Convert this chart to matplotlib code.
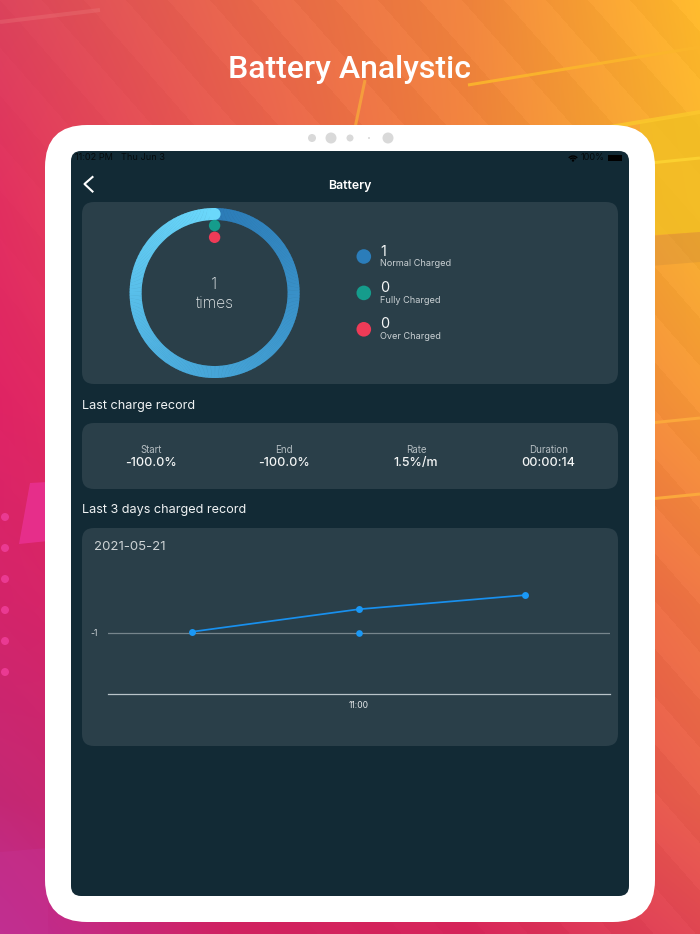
import numpy as np
import matplotlib
matplotlib.use("Agg")
import matplotlib.pyplot as plt
from matplotlib.patches import FancyBboxPatch, Circle, Wedge, Polygon, Rectangle, Arc

# ---------- data ----------
ring_total = 1
legend_counts = [1, 0, 0]
legend_names = ["Normal Charged", "Fully Charged", "Over Charged"]
legend_colors = ["#2b7dba", "#159c8c", "#ee3b57"]
record_labels = ["Start", "End", "Rate", "Duration"]
record_values = ["-100.0%", "-100.0%", "1.5%/m", "00:00:14"]
chart_date = "2021-05-21"
line_x = [0, 1, 1.99]
line_values = [-0.98, -0.61, -0.38]
point_x = [1]
point_values = [-1]
x_tick_pos = [1]
x_tick_labels = ["11:00"]
y_tick_pos = [-1]
y_tick_labels = ["-1"]

W, H = 700, 934
SCREEN = "#122a35"
CARD = "#2a3f49"
FONT = ["Inter", "DejaVu Sans"]

fig = plt.figure(figsize=(W / 100, H / 100), dpi=100)
bg = fig.add_axes([0, 0, 1, 1])
bg.set_xlim(0, W)
bg.set_ylim(H, 0)
bg.axis("off")

# ---------- background gradient ----------
cx = np.array([0, 233, 466, 700], float)
cy = np.array([0, 200, 400, 600, 800, 934], float)
grid = np.array([
    [[220, 68, 92], [232, 102, 76], [240, 132, 62], [255, 186, 44]],
    [[226, 48, 96], [232, 90, 80], [240, 130, 60], [246, 178, 46]],
    [[224, 36, 100], [228, 60, 90], [236, 110, 70], [246, 152, 56]],
    [[212, 36, 106], [220, 40, 96], [232, 80, 76], [238, 118, 68]],
    [[196, 40, 116], [208, 36, 100], [226, 60, 84], [232, 96, 76]],
    [[190, 46, 150], [208, 34, 96], [214, 36, 90], [226, 72, 84]],
], float)
xx = np.arange(W) + .5
yy = np.arange(H) + .5
row = np.array([[np.interp(x, cx, grid[r, :, c]) for x in xx] for r in range(6) for c in range(3)]).reshape(6, 3, W)
img = np.zeros((H, W, 3))
for c in range(3):
    for i in range(W):
        img[:, i, c] = np.interp(yy, cy, row[:, c, i])
X, Y = np.meshgrid(xx, yy)
stripe = (((X - Y * 0.88) % 84) < 42).astype(float)
strength = np.clip((X + (400 - Y) * 0.5) / 500, 0.1, 1)
img = np.clip(img + (stripe - .5)[..., None] * 5 * strength[..., None], 0, 255)
bg.imshow(img.astype(np.uint8), extent=(0, W, H, 0), aspect="auto", interpolation="bilinear", zorder=0)
bg.set_xlim(0, W)
bg.set_ylim(H, 0)

# ---------- background decoration ----------
bg.add_patch(Polygon([(640, 236), (700, 232), (700, 114), (640, 122)], fc="#f2c024", alpha=.8, ec="none", zorder=1))
bg.add_patch(Polygon([(650, 236), (700, 232), (700, 262), (650, 266)], fc="#c98a3a", alpha=.3, ec="none", zorder=1))
bg.add_patch(Polygon([(30, 483), (48, 482), (48, 541), (19, 544)], fc="#e8308f", alpha=.9, ec="none", zorder=1))
bg.add_patch(Polygon([(0, 852), (48, 848), (48, 934), (0, 934)], fc="#c4308e", alpha=.5, ec="none", zorder=1))
for py in [517, 548, 579, 610, 641, 672]:
    bg.add_patch(Circle((5, py), 4, fc="#ea3a92", ec="none", zorder=1))
streaks = [((468, 85), (700, 47), 3, "#fbb62c", .9), ((355, 128), (365, 80), 3, "#f6a23c", .9),
           ((0, 22), (100, 10), 4, "#ee7f80", .3), ((580, 132), (700, 112), 4, "#fbc92c", .8),
           ((650, 163), (700, 158), 3, "#fbd030", 1), ((650, 423), (700, 418), 3, "#fba83c", 1),
           ((650, 499), (700, 494), 3, "#fba83c", 1)]
for a, b, lw, col, al in streaks:
    bg.plot([a[0], b[0]], [a[1], b[1]], color=col, lw=lw * .72, alpha=al, zorder=1, solid_capstyle="butt")


def rrect(x0, y0, x1, y1, r, fc, z):
    bg.add_patch(FancyBboxPatch((x0 + r, y0 + r), x1 - x0 - 2 * r, y1 - y0 - 2 * r,
                                boxstyle=f"round,pad={r},rounding_size={r}", fc=fc, ec="none", zorder=z))


def txt(x, y, s, size, color="white", weight="normal", ha="center", family=FONT, alpha=1):
    bg.text(x, y + 1, s, fontsize=size, color=color, fontweight=weight, ha=ha, va="center",
            family=family, alpha=alpha, zorder=6)


# ---------- device ----------
rrect(45, 125, 655, 922, 42, "white", 2)
rrect(71, 151, 629, 896, 10, SCREEN, 3)
rrect(82, 202, 618, 384, 12, CARD, 4)
rrect(82, 423, 618, 489, 12, CARD, 4)
rrect(82, 528, 618, 746, 12, CARD, 4)
for px, r in [(312, 4), (331, 5.5), (350, 3.5), (369, 1), (388, 5.5)]:
    bg.add_patch(Circle((px, 138), r, fc="#d9d9d9", ec="none", zorder=4))

txt(349.5, 69, "Battery Analystic", 23, weight="medium", family=["Roboto", "DejaVu Sans"])

# ---------- status / nav ----------
txt(75, 157, "11:02 PM", 6.6, color="black", ha="left", alpha=.75)
txt(121, 157, "Thu Jun 3", 6.6, color="black", ha="left", alpha=.75)
txt(581, 157, "100%", 6.6, color="black", ha="left", alpha=.75)
for d, lw in [(11, 1.0), (7, 1.0)]:
    bg.add_patch(Arc((573, 161.5), d, d, theta1=220, theta2=320, color="black", lw=lw, zorder=6))
bg.add_patch(Circle((573, 160.5), 1.2, fc="black", ec="none", zorder=6))
bg.add_patch(Rectangle((608, 155), 14, 6, fc="black", ec="none", zorder=6))
bg.plot([92.5, 84.5, 92.5], [177, 184, 191.5], color="white", lw=1.5, zorder=6)
txt(350, 184.5, "Battery", 8.9, weight="semibold")

# ---------- ring ----------
rc = (214.6, 293)
R, T = 85, 12
dark = np.array([0x2b, 0x7b, 0xb7]) / 255
mid = np.array([0x46, 0xa5, 0xd8]) / 255
light = np.array([0x6b, 0xd8, 0xfb]) / 255
frac = legend_counts[0] / ring_total
N = 360
for i in range(int(N * frac)):
    t = i / N
    col = dark + (mid - dark) * (t / .5) if t < .5 else mid + (light - mid) * ((t - .5) / .5)
    # inverted y axis: angles run clockwise on screen
    bg.add_patch(Wedge(rc, R, -90 + 360 * t, -90 + 360 * (t + 1 / N) + .4, width=T, fc=col, ec="none", zorder=5))
bg.add_patch(Circle((rc[0], rc[1] - R + T / 2), T / 2, fc=light, ec="none", zorder=5))
bg.add_patch(Circle((rc[0], 225.5), 5.7, fc=legend_colors[1], ec="none", zorder=5))
bg.add_patch(Circle((rc[0], 237.3), 5.7, fc=legend_colors[2], ec="none", zorder=5))
txt(rc[0], 283.5, str(ring_total), 12, color="#e8eced", weight="light")
txt(rc[0] + .5, 302.5, "times", 11.2, color="#e8eced", weight="light")

for i, (cnt, name, col) in enumerate(zip(legend_counts, legend_names, legend_colors)):
    y = 256.5 + i * 36.4
    bg.add_patch(Circle((363.8, y), 7.3, fc=col, ec="none", zorder=5))
    txt(380.5, y - 6, str(cnt), 10.4, ha="left", color="#f4f6f6")
    txt(380.5, y + 6.3, name, 6.6, ha="left", color="#c9d0d3")

# ---------- headers + record ----------
txt(82.5, 404.5, "Last charge record", 9.1, ha="left", color="#f0f3f4")
txt(82.5, 508.5, "Last 3 days charged record", 9.1, ha="left", color="#f0f3f4")
for xc, lab, val in zip([151.5, 284, 416, 548.5], record_labels, record_values):
    txt(xc, 449, lab, 7.0, color="#b4bdc1")
    txt(xc, 462, val, 9.0, color="#f4f6f6", weight="medium")

# ---------- line chart ----------
txt(94, 546.5, chart_date, 9.5, ha="left", color="#cdd3d5")
ax = fig.add_axes([108 / W, (H - 694) / H, (610 - 108) / W, (694 - 572) / H], zorder=5)
ax.patch.set_alpha(0)
ax.set_xlim(-.5, 2.5)
ax.set_ylim(-2, 0)
for s in ["top", "left", "right"]:
    ax.spines[s].set_visible(False)
ax.spines["bottom"].set_color("#b9c4c9")
ax.spines["bottom"].set_linewidth(.9)
ax.set_xticks(x_tick_pos, x_tick_labels, fontsize=6.2, color="#e3e7e9", family=FONT)
ax.set_yticks(y_tick_pos, y_tick_labels, fontsize=6.2, color="#d3d9dc", family=FONT)
ax.tick_params(axis="x", length=0, pad=5)
ax.tick_params(axis="y", length=0, pad=7.5)
ax.grid(axis="y", color="#76858c", lw=.9)
ax.set_axisbelow(True)
ax.plot(line_x, line_values, color="#1890ee", lw=1.25, marker="o", ms=5, mfc="#1a98f5", mec="none", clip_on=False)
ax.plot(point_x, point_values, ls="none", marker="o", ms=4.8, mfc="#1a98f5", mec="none", clip_on=False)

fig.savefig("out.png", dpi=100)
